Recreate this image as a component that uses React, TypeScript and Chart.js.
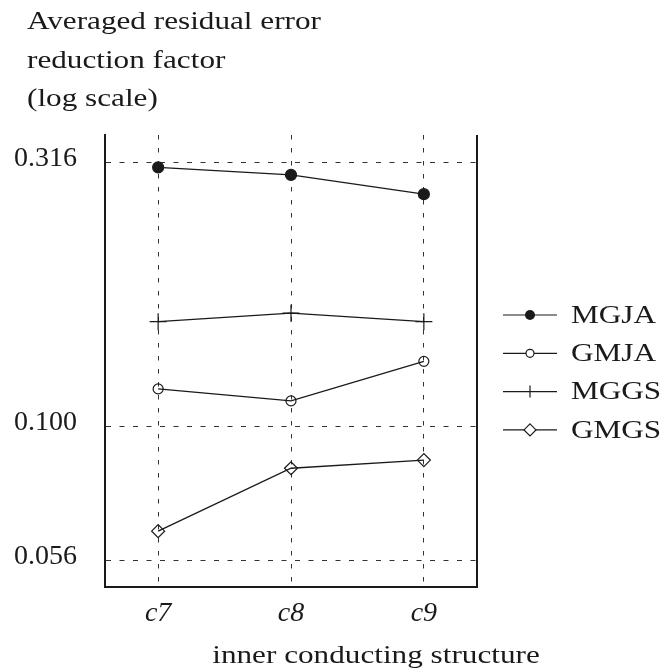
import React, { useEffect, useRef } from 'react';
import { Chart, registerables } from 'chart.js';

Chart.register(...registerables);

const categories = ['c7', 'c8', 'c9'];
const categoryX = [7, 8, 9];
const seriesNames = ['MGJA', 'GMJA', 'MGGS', 'GMGS'];
const mgja = [0.309, 0.299, 0.275];
const gmja = [0.118, 0.112, 0.133];
const mggs = [0.158, 0.164, 0.158];
const gmgs = [0.0636, 0.0836, 0.0866];
const yTicks = [0.056, 0.1, 0.316];
const titleLines = ['Averaged residual error', 'reduction factor', '(log scale)'];
const xTitle = 'inner conducting structure';

const FONT = '"Liberation Serif", "Times New Roman", serif';
const INK = '#1a1a1a';
const STRETCH = 1.2;

type MarkerKind = 'dot' | 'circle' | 'cross' | 'diamond';
const markerKinds: MarkerKind[] = ['dot', 'circle', 'cross', 'diamond'];

function drawMarker(ctx: CanvasRenderingContext2D, kind: MarkerKind, x: number, y: number, r: number) {
  ctx.beginPath();
  if (kind === 'dot') {
    ctx.arc(x, y, r, 0, Math.PI * 2);
    ctx.fillStyle = INK;
    ctx.fill();
  } else if (kind === 'circle') {
    ctx.arc(x, y, r, 0, Math.PI * 2);
    ctx.fillStyle = '#fff';
    ctx.fill();
    ctx.stroke();
  } else if (kind === 'cross') {
    ctx.moveTo(x, y - r);
    ctx.lineTo(x, y + r);
    ctx.stroke();
  } else {
    ctx.moveTo(x, y - r);
    ctx.lineTo(x + r, y);
    ctx.lineTo(x, y + r);
    ctx.lineTo(x - r, y);
    ctx.closePath();
    ctx.fillStyle = '#fff';
    ctx.fill();
    ctx.stroke();
  }
}

// draw text with a horizontal stretch so the serif face spreads like the reference's
function wideText(ctx: CanvasRenderingContext2D, text: string, x: number, y: number, align: 'left' | 'center') {
  const w = ctx.measureText(text).width * STRETCH;
  const left = align === 'center' ? x - w / 2 : x;
  ctx.save();
  ctx.textAlign = 'left';
  ctx.translate(left, y);
  ctx.scale(STRETCH, 1);
  ctx.fillText(text, 0, 0);
  ctx.restore();
}

const decor = {
  id: 'decor',
  afterDraw(chart: any) {
    const { ctx, chartArea } = chart;
    ctx.save();
    ctx.strokeStyle = INK;
    ctx.lineWidth = 2;
    ctx.beginPath();
    ctx.moveTo(chartArea.right, chartArea.top);
    ctx.lineTo(chartArea.right, chartArea.bottom + 1);
    ctx.stroke();

    ctx.fillStyle = INK;
    ctx.font = `26px ${FONT}`;
    ctx.textBaseline = 'alphabetic';
    titleLines.forEach((t, i) => wideText(ctx, t, 27, 29 + i * 38.5, 'left'));

    wideText(ctx, xTitle, 376, 663, 'center');

    // legend
    ctx.font = `26px ${FONT}`;
    ctx.textBaseline = 'middle';
    seriesNames.forEach((name, i) => {
      const y = 315 + i * 38.3;
      ctx.strokeStyle = INK;
      ctx.lineWidth = 1.2;
      ctx.beginPath();
      ctx.moveTo(503, y);
      ctx.lineTo(557, y);
      ctx.stroke();
      const rs = [5, 4, 6, 6];
      drawMarker(ctx, markerKinds[i], 530, y, rs[i]);
      ctx.fillStyle = INK;
      wideText(ctx, name, 571, y + 1, 'left');
    });
    ctx.restore();
  },
};

function pts(vals: number[]) {
  return vals.map((v, i) => ({ x: categoryX[i], y: v }));
}

export default function App() {
  const ref = useRef<HTMLCanvasElement | null>(null);
  useEffect(() => {
    if (!ref.current) return;
    const common = { borderColor: INK, borderWidth: 1.3, showLine: true, pointBorderColor: INK, pointBorderWidth: 1.2 };
    const chart = new Chart(ref.current, {
      type: 'scatter',
      data: {
        datasets: [
          { ...common, label: seriesNames[0], data: pts(mgja), pointStyle: 'circle', pointRadius: 5.5, pointBackgroundColor: INK },
          { ...common, label: seriesNames[1], data: pts(gmja), pointStyle: 'circle', pointRadius: 5, pointBackgroundColor: 'rgba(255,255,255,0)' },
          { ...common, label: seriesNames[2], data: pts(mggs), pointStyle: 'cross', pointRadius: 8.5, pointBackgroundColor: INK },
          { ...common, label: seriesNames[3], data: pts(gmgs), pointStyle: 'rectRot', pointRadius: 6.5, pointBackgroundColor: 'rgba(255,255,255,0)' },
        ],
      },
      options: {
        responsive: false,
        animation: false,
        layout: { padding: { top: 135, right: 184, left: 0, bottom: 0 } },
        plugins: { legend: { display: false }, tooltip: { enabled: false } },
        scales: {
          x: {
            type: 'linear',
            min: 6.6,
            max: 9.4,
            afterFit: (s: any) => { s.height = 84; },
            afterBuildTicks: (s: any) => { s.ticks = categoryX.map((v) => ({ value: v })); },
            ticks: {
              padding: 10,
              color: INK,
              font: { family: FONT, size: 28, style: 'italic' },
              callback: (v: any) => categories[categoryX.indexOf(Number(v))] ?? '',
            },
            grid: { color: '#333', lineWidth: 1, drawTicks: false },
            border: { display: true, color: INK, width: 2, dash: [4.5, 8.5] },
          },
          y: {
            type: 'logarithmic',
            min: 0.0499,
            max: 0.3556,
            afterFit: (s: any) => { s.width = 105; },
            afterBuildTicks: (s: any) => { s.ticks = yTicks.map((v) => ({ value: v })); },
            ticks: {
              padding: 28,
              labelOffset: -4,
              color: INK,
              font: { family: FONT, size: 28 },
              callback: (v: any) => Number(v).toFixed(3),
            },
            grid: { color: '#333', lineWidth: 1, drawTicks: false },
            border: { display: true, color: INK, width: 2, dash: [5, 8.5] },
          },
        },
      },
      plugins: [decor],
    } as any);
    return () => chart.destroy();
  }, []);
  return (
    <div style={{ position: 'fixed', left: 0, top: 0, width: 661, height: 671, background: '#fff' }}>
      <canvas ref={ref} width={661} height={671} style={{ display: 'block' }} />
    </div>
  );
}
